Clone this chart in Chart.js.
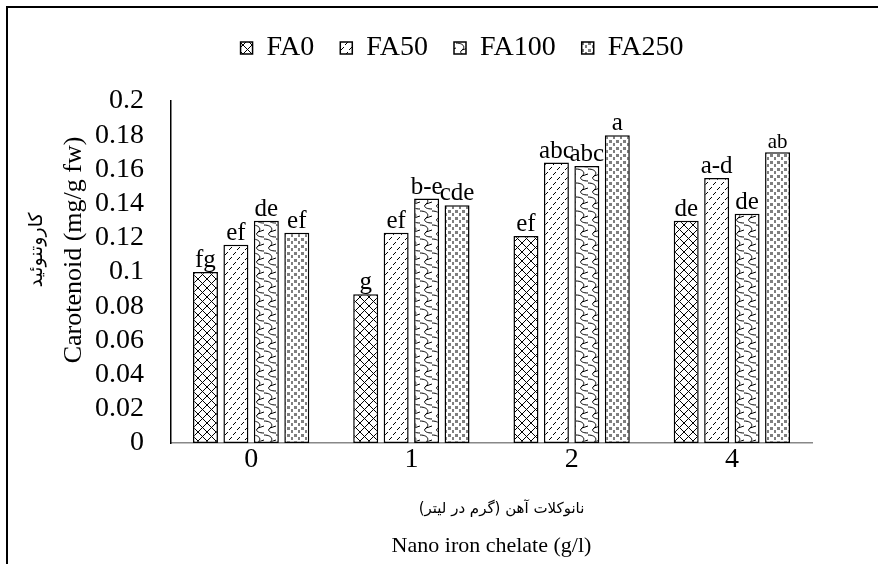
<!DOCTYPE html>
<html>
<head>
<meta charset="utf-8">
<script src="https://cdn.jsdelivr.net/npm/chart.js@4"></script>
<style>
html,body{margin:0;padding:0;background:#fff;}
#wrap{width:878px;height:564px;position:relative;}
</style>
</head>
<body>
<div id="wrap"><canvas id="c"></canvas></div>
<script>
// ---- data ----
const categories = ['0', '1', '2', '4'];
const seriesNames = ['FA0', 'FA50', 'FA100', 'FA250'];
const fa0   = [0.100, 0.087, 0.121, 0.130];
const fa50  = [0.116, 0.123, 0.164, 0.155];
const fa100 = [0.130, 0.143, 0.162, 0.134];
const fa250 = [0.123, 0.139, 0.180, 0.170];
const lettersFa0   = ['fg', 'g', 'ef', 'de'];
const lettersFa50  = ['ef', 'ef', 'abc', 'a-d'];
const lettersFa100 = ['de', 'b-e', 'abc', 'de'];
const lettersFa250 = ['ef', 'cde', 'a', 'ab'];
const yTickLabels = ['0','0.02','0.04','0.06','0.08','0.1','0.12','0.14','0.16','0.18','0.2'];
const yTitle = 'Carotenoid (mg/g fw)';
const yTitleFa = 'کاروتنوئید';
const xTitle = 'Nano iron chelate (g/l)';
const xTitleFa = 'نانوکلات آهن (گرم در لیتر)';

// ---- patterns ----
function makePattern(w, h, draw) {
  const c = document.createElement('canvas');
  c.width = w; c.height = h;
  const g = c.getContext('2d');
  g.fillStyle = '#fff'; g.fillRect(0, 0, w, h);
  g.strokeStyle = '#000'; g.lineWidth = 1;
  draw(g);
  return g.createPattern(c, 'repeat');
}
const patFA0 = makePattern(9, 9, g => {
  g.beginPath();
  g.moveTo(0, 0); g.lineTo(9, 9);
  g.moveTo(9, 0); g.lineTo(0, 9);
  g.stroke();
});
const patFA50 = makePattern(8, 10, g => {
  g.beginPath();
  g.moveTo(1, 5); g.lineTo(4, 2);
  g.moveTo(5, 10); g.lineTo(8, 7);
  g.stroke();
});
const patFA100 = makePattern(12, 14, g => {
  g.beginPath();
  g.moveTo(0, 1);
  g.bezierCurveTo(7, 1, 10, 5, 6, 8);
  g.bezierCurveTo(3, 10, 5, 13, 12, 13);
  g.moveTo(6, 8); g.lineTo(12, 6);
  g.stroke();
});
const patFA250 = makePattern(7, 7, g => {
  g.fillStyle = '#7f7f7f';
  g.fillRect(0, 0, 3, 3);
  g.fillRect(4, 3, 2, 3);
});

const serif = "'Liberation Serif', 'Times New Roman', serif";
const persianFont = "'DejaVu Sans', 'Noto Sans', sans-serif";

const datasets = [
  {label: seriesNames[0], data: fa0, backgroundColor: patFA0, letters: lettersFa0},
  {label: seriesNames[1], data: fa50, backgroundColor: patFA50, letters: lettersFa50},
  {label: seriesNames[2], data: fa100, backgroundColor: patFA100, letters: lettersFa100},
  {label: seriesNames[3], data: fa250, backgroundColor: patFA250, letters: lettersFa250}
].map(d => Object.assign(d, {
  borderColor: '#000', borderWidth: 1.5, borderSkipped: false,
  categoryPercentage: 0.76, barPercentage: 0.82
}));

const extras = {
  id: 'extras',
  afterDatasetsDraw(chart) {
    const ctx = chart.ctx;
    ctx.save();
    ctx.fillStyle = '#000';
    ctx.textAlign = 'center';
    ctx.textBaseline = 'bottom';
    chart.data.datasets.forEach((ds, di) => {
      const meta = chart.getDatasetMeta(di);
      meta.data.forEach((bar, i) => {
        const t = ds.letters[i];
        ctx.font = (t === 'ab' ? '21px ' : '25px ') + serif;
        ctx.fillText(t, bar.x, bar.y + 1);
      });
    });
    ctx.restore();
  },
  afterDraw(chart) {
    const ctx = chart.ctx;
    const a = chart.chartArea;
    ctx.save();
    // frame lines
    ctx.strokeStyle = '#000';
    ctx.lineWidth = 2;
    ctx.beginPath();
    ctx.moveTo(878, 7); ctx.lineTo(7, 7); ctx.lineTo(7, 564);
    ctx.stroke();
    // y titles
    ctx.fillStyle = '#000';
    ctx.textAlign = 'center';
    ctx.textBaseline = 'middle';
    const cy = (a.top + a.bottom) / 2;
    ctx.save();
    ctx.translate(74, cy - 22);
    ctx.rotate(-Math.PI / 2);
    ctx.font = '26px ' + serif;
    ctx.fillText(yTitle, 0, 0);
    ctx.restore();
    ctx.save();
    ctx.translate(37, cy - 22);
    ctx.rotate(-Math.PI / 2);
    ctx.font = '19px ' + persianFont;
    ctx.direction = 'rtl';
    ctx.fillText(yTitleFa, 0, 0);
    ctx.restore();
    // x titles
    const cx = (a.left + a.right) / 2;
    ctx.font = '15px ' + persianFont;
    ctx.direction = 'rtl';
    ctx.fillText(xTitleFa, cx + 10, 509);
    ctx.direction = 'ltr';
    ctx.font = '22px ' + serif;
    ctx.fillText(xTitle, cx, 546);
    ctx.restore();
  }
};

new Chart(document.getElementById('c'), {
  type: 'bar',
  data: {labels: categories, datasets},
  options: {
    responsive: true,
    maintainAspectRatio: false,
    animation: false,
    devicePixelRatio: 1,
    layout: {padding: {top: 8, right: 0, bottom: 0, left: 46}},
    plugins: {
      legend: {
        position: 'top',
        labels: {
          font: {family: serif, size: 28},
          color: '#000',
          boxWidth: 12, boxHeight: 12,
          padding: 26
        }
      },
      subtitle: {
        display: true, text: '', position: 'top', weight: 500,
        font: {size: 10, lineHeight: 1.2},
        padding: {top: 17, bottom: 0}
      },
      title: {
        display: true, text: '', position: 'right', fullSize: false,
        font: {size: 10, lineHeight: 1.2},
        padding: {top: 54, bottom: 0}
      },
      tooltip: {enabled: false}
    },
    scales: {
      x: {
        grid: {display: false, drawTicks: false},
        border: {display: true, color: '#888', width: 1.5},
        ticks: {font: {family: serif, size: 28}, color: '#000', padding: 0, autoSkip: false},
        afterFit(s) { s.height = 121; }
      },
      y: {
        min: 0, max: 0.2,
        grid: {display: false, drawTicks: false},
        border: {display: true, color: '#000', width: 1.5},
        ticks: {
          stepSize: 0.02, autoSkip: false,
          font: {family: serif, size: 28}, color: '#000', padding: 27,
          callback: (v, i) => yTickLabels[i]
        },
        afterFit(s) { s.width = 125; }
      }
    }
  },
  plugins: [extras]
});
</script>
</body>
</html>
